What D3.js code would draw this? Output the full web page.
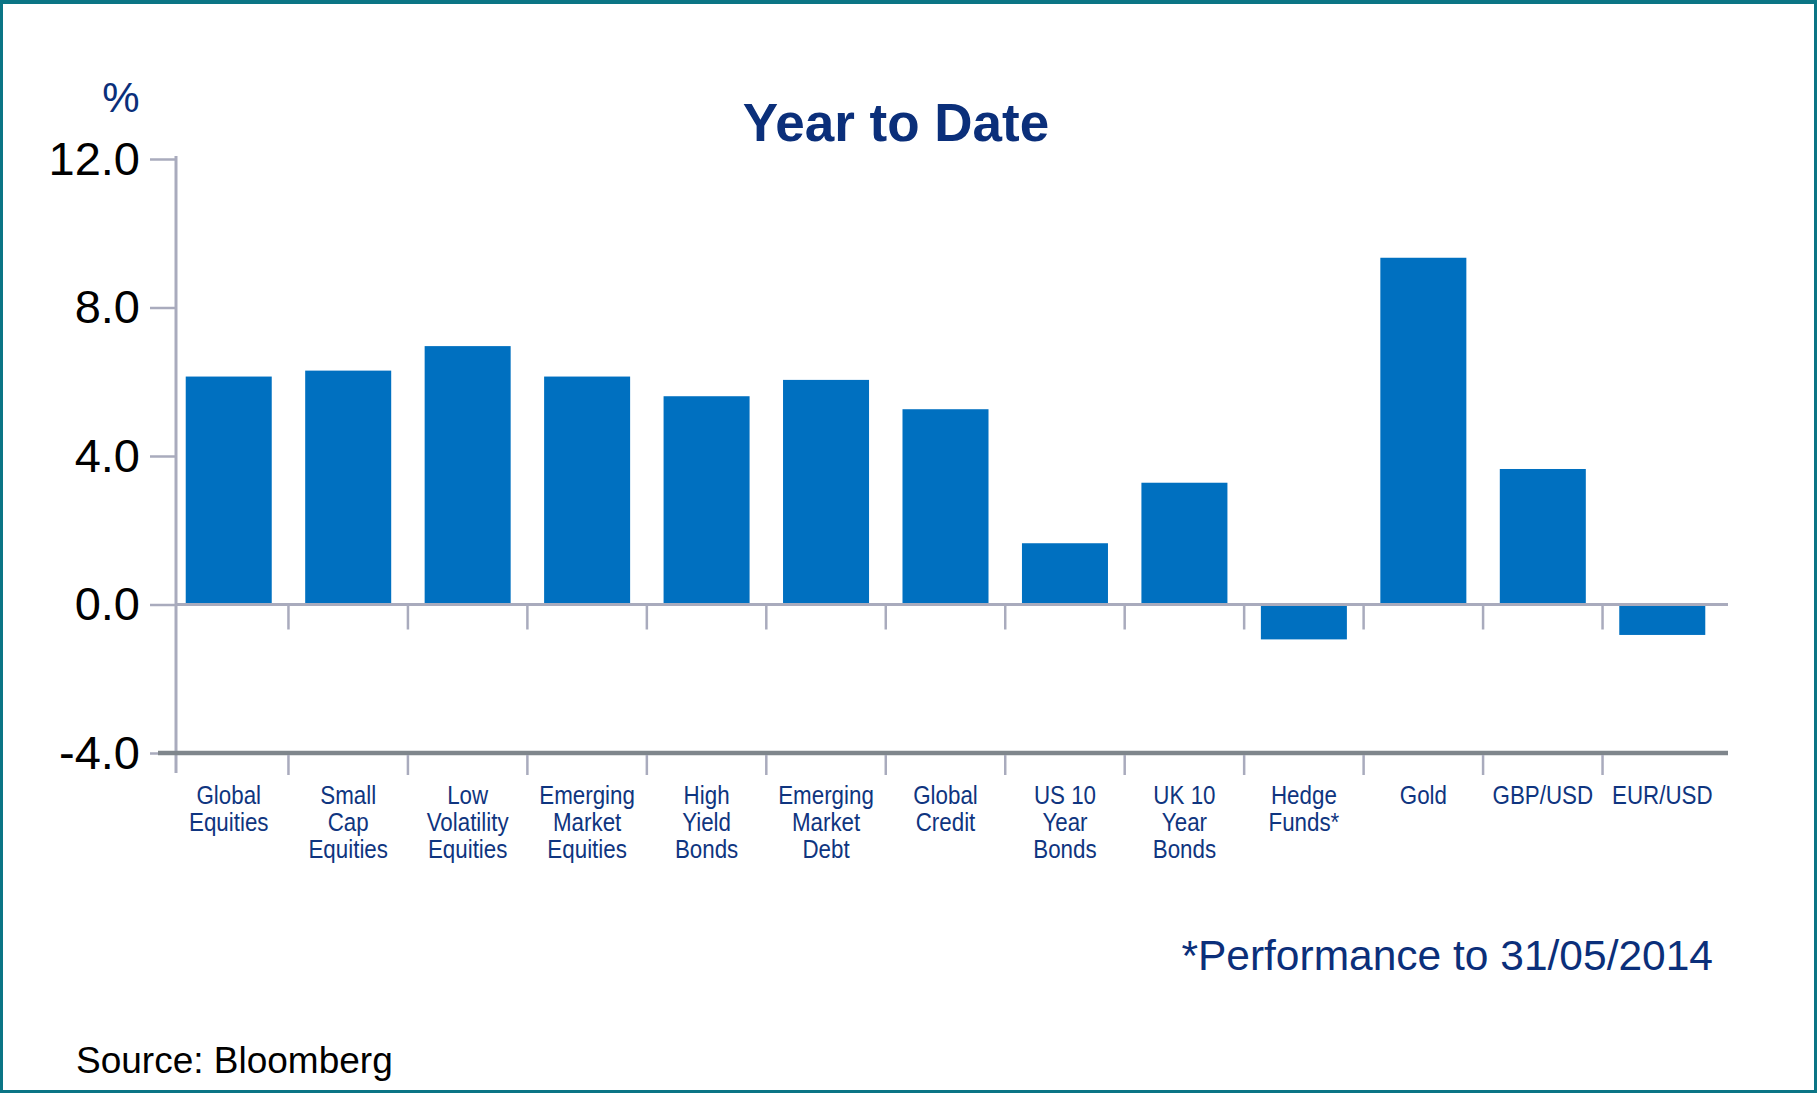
<!DOCTYPE html>
<html><head><meta charset="utf-8">
<script src="https://cdn.jsdelivr.net/npm/d3@7"></script>
<style>body{margin:0;background:#fff}svg{display:block}</style>
</head><body>
<svg id="chart" width="1817" height="1093"></svg>
<script>
const categories = ["Global\nEquities","Small\nCap\nEquities","Low\nVolatility\nEquities","Emerging\nMarket\nEquities","High\nYield\nBonds","Emerging\nMarket\nDebt","Global\nCredit","US 10\nYear\nBonds","UK 10\nYear\nBonds","Hedge\nFunds*","Gold","GBP/USD","EUR/USD"];
const values = [6.14, 6.30, 6.96, 6.14, 5.61, 6.05, 5.26, 1.65, 3.28, -0.94, 9.34, 3.65, -0.82];
const yTicks = [-4, 0, 4, 8, 12];
const title = "Year to Date";
const unitLabel = "%";
const footnote = "*Performance to 31/05/2014";
const source = "Source: Bloomberg";

const W = 1817, H = 1093;
const svg = d3.select("#chart");
const navy = "#0b2f7a", labelNavy = "#0f3580", barColor = "#0070c0";
const axisLight = "#a9abbd", axisDark = "#7f868c", teal = "#0b7585";

// frame
svg.append("rect").attr("x",1.5).attr("y",2).attr("width",W-3).attr("height",H-3.5)
  .attr("fill","#fff").attr("stroke",teal).attr("stroke-width",3);
svg.append("line").attr("x1",0).attr("x2",W).attr("y1",2).attr("y2",2).attr("stroke",teal).attr("stroke-width",4);

const axisX = 176, rightX = 1728;
const x = d3.scaleBand().domain(categories).range([169, 1722]).paddingInner(0.28).paddingOuter(0.14);
const y = d3.scaleLinear().domain([-4, 12]).range([753, 159]);

// title etc
svg.append("text").attr("x",896).attr("y",141).attr("text-anchor","middle")
  .attr("font-family","Liberation Sans, Arial, sans-serif").attr("font-weight","bold")
  .attr("font-size",53).attr("fill",navy).text(title);
svg.append("text").attr("x",121).attr("y",112).attr("text-anchor","middle")
  .attr("font-family","Liberation Sans, Arial, sans-serif").attr("font-size",42).attr("fill",navy).text(unitLabel);

// bars
svg.append("g").selectAll("rect").data(values).join("rect")
  .attr("x",(d,i)=>x(categories[i]))
  .attr("width",x.bandwidth())
  .attr("y",d=>y(Math.max(0,d)))
  .attr("height",d=>Math.abs(y(d)-y(0)))
  .attr("fill",barColor);

// y axis
const yAxis = d3.axisLeft(y).tickValues(yTicks).tickFormat(d=>d.toFixed(1)).tickSize(26).tickPadding(10);
const gy = svg.append("g").attr("transform",`translate(${axisX},0)`).call(yAxis);
gy.select(".domain").remove();
gy.selectAll(".tick line").attr("stroke",axisLight).attr("stroke-width",2.5);
gy.selectAll(".tick text").attr("font-family","Liberation Sans, Arial, sans-serif").attr("font-size",47).attr("fill","#000");
svg.append("line").attr("x1",axisX).attr("x2",axisX).attr("y1",y(12)-3).attr("y2",773)
  .attr("stroke",axisLight).attr("stroke-width",3);

// zero line
svg.append("line").attr("x1",axisX).attr("x2",rightX).attr("y1",y(0)).attr("y2",y(0))
  .attr("stroke",axisLight).attr("stroke-width",3);
// bottom axis
svg.append("line").attr("x1",158).attr("x2",rightX).attr("y1",y(-4)).attr("y2",y(-4))
  .attr("stroke",axisDark).attr("stroke-width",4.5);

// boundary ticks
const bounds = categories.slice(1).map(c => x(c) - x.step()*x.paddingInner()/2);
svg.append("g").selectAll("line").data(bounds).join("line")
  .attr("x1",d=>d).attr("x2",d=>d).attr("y1",y(0)+1).attr("y2",y(0)+25)
  .attr("stroke",axisLight).attr("stroke-width",2.5);
svg.append("g").selectAll("line").data(bounds).join("line")
  .attr("x1",d=>d).attr("x2",d=>d).attr("y1",y(-4)+2).attr("y2",y(-4)+22)
  .attr("stroke",axisLight).attr("stroke-width",2.5);

// category labels
const xAxis = d3.axisBottom(x).tickSize(0).tickPadding(0);
const gx = svg.append("g").attr("transform",`translate(0,${y(-4)})`).call(xAxis);
gx.select(".domain").remove();
gx.selectAll(".tick text").each(function(d){
  const t = d3.select(this);
  t.text(null).attr("y",0).attr("dy",null)
   .attr("transform","scale(0.86,1)")
   .attr("font-family","Liberation Sans, Arial, sans-serif")
   .attr("font-size",26).attr("fill",labelNavy);
  d.split("\n").forEach((line,i)=>{
    t.append("tspan").attr("x",0).attr("y",51 + i*27).text(line);
  });
});

// footnote & source
svg.append("text").attr("x",1713).attr("y",970).attr("text-anchor","end")
  .attr("font-family","Liberation Sans, Arial, sans-serif").attr("font-size",42.5).attr("fill",navy).text(footnote);
svg.append("text").attr("x",76).attr("y",1073)
  .attr("font-family","Liberation Sans, Arial, sans-serif").attr("font-size",37).attr("fill","#000").text(source);
</script>
</body></html>
